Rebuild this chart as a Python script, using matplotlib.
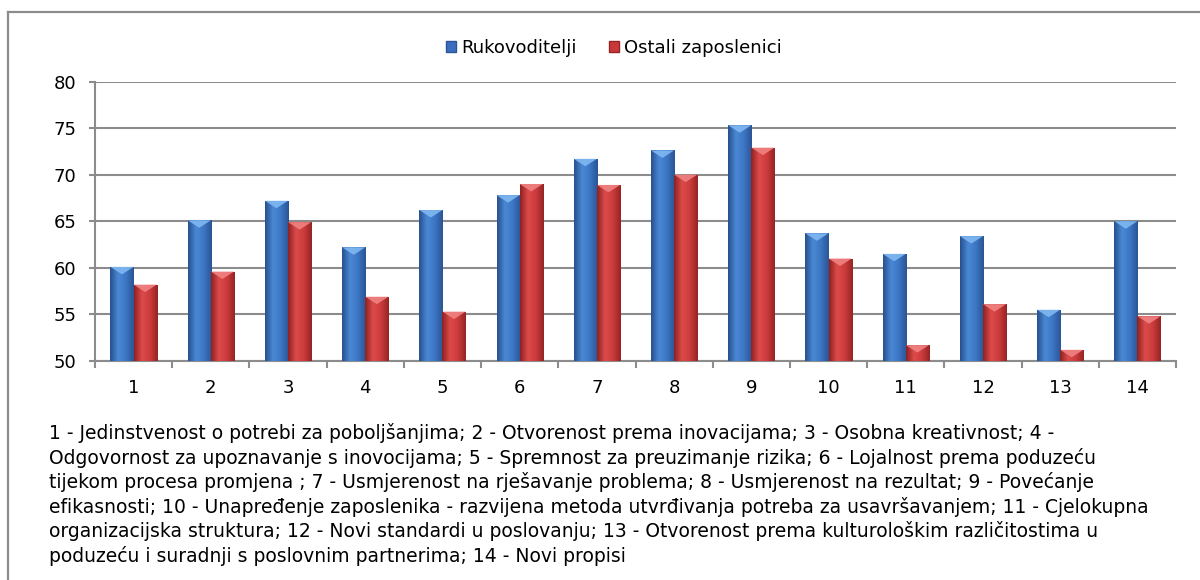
import numpy as np
import matplotlib
matplotlib.use("Agg")
import matplotlib.pyplot as plt
from matplotlib.patches import Rectangle, Polygon
from matplotlib.lines import Line2D
from matplotlib.colors import LinearSegmentedColormap

categories = ["1", "2", "3", "4", "5", "6", "7", "8", "9", "10", "11", "12", "13", "14"]
rukovoditelji = [60.1, 65.1, 67.2, 62.2, 66.2, 67.8, 71.7, 72.6, 75.3, 63.7, 61.5, 63.4, 55.5, 65.0]
ostali = [58.2, 59.6, 64.9, 56.9, 55.3, 69.0, 68.9, 70.0, 72.9, 61.0, 51.7, 56.1, 51.2, 54.8]
series_names = ["Rukovoditelji", "Ostali zaposlenici"]
y_ticks = [50, 55, 60, 65, 70, 75, 80]
caption_lines = [
    "1 - Jedinstvenost o potrebi za poboljšanjima; 2 - Otvorenost prema inovacijama; 3 - Osobna kreativnost; 4 -",
    "Odgovornost za upoznavanje s inovocijama; 5 - Spremnost za preuzimanje rizika; 6 - Lojalnost prema poduzeću",
    "tijekom procesa promjena ; 7 - Usmjerenost na rješavanje problema; 8 - Usmjerenost na rezultat; 9 - Povećanje",
    "efikasnosti; 10 - Unapređenje zaposlenika - razvijena metoda utvrđivanja potreba za usavršavanjem; 11 - Cjelokupna",
    "organizacijska struktura; 12 - Novi standardi u poslovanju; 13 - Otvorenost prema kulturološkim različitostima u",
    "poduzeću i suradnji s poslovnim partnerima; 14 - Novi propisi",
]

plt.rcParams['font.family'] = ['DejaVu Sans']

W, H = 1200, 580
fig = plt.figure(figsize=(W / 100, H / 100), dpi=100)
# outer border (left and top visible, the rest is cut off)
fig.add_artist(Line2D([8 / W, 8 / W], [0, 1 - 12 / H], transform=fig.transFigure, color='#8c8c8c', lw=1.6))
fig.add_artist(Line2D([8 / W, 1], [1 - 12 / H, 1 - 12 / H], transform=fig.transFigure, color='#8c8c8c', lw=1.6))

left, right, top, bottom = 95, 1176, 81.5, 361
ax = fig.add_axes([left / W, 1 - bottom / H, (right - left) / W, (bottom - top) / H])
x = np.arange(len(categories))
w = 0.30
b1 = ax.bar(x - w / 2, rukovoditelji, width=w, bottom=0, color='#3a6fc0', zorder=3)
b2 = ax.bar(x + w / 2, ostali, width=w, bottom=0, color='#c83a3a', zorder=3)

blue_cm = LinearSegmentedColormap.from_list('b', ['#28508e', '#4a88d4', '#3c76c4', '#2a5596'])
red_cm = LinearSegmentedColormap.from_list('r', ['#8e2222', '#dc4a4a', '#cc3c3c', '#962424'])
top_cols = {'b': '#80b8f2', 'r': '#f08282'}
grad = np.linspace(0, 1, 64).reshape(1, -1)
for bars, cm, key in ((b1, blue_cm, 'b'), (b2, red_cm, 'r')):
    for p in bars:
        x0, wd, h = p.get_x(), p.get_width(), p.get_height()
        im = ax.imshow(grad, cmap=cm, aspect='auto', extent=(x0, x0 + wd, 50, h), zorder=3.5)
        im.set_clip_path(p)
        tri_h = 0.8
        ax.add_patch(Polygon([(x0, h), (x0 + wd, h), (x0 + wd / 2, h - tri_h)], closed=True,
                             facecolor=top_cols[key], edgecolor='none', zorder=4, alpha=0.9))
ax.set_ylim(50, 80)
ax.set_xlim(-0.5, len(categories) - 0.5)

ax.set_yticks(y_ticks)
ax.set_xticks(x)
ax.set_xticklabels(categories)
ax.set_xticks(np.arange(len(categories) + 1) - 0.5, minor=True)
ax.tick_params(axis='x', which='major', length=0, labelsize=13, pad=13)
ax.tick_params(axis='x', which='minor', length=5, color='#8c8c8c', width=1.5, direction='out')
ax.tick_params(axis='y', length=4.5, color='#8c8c8c', width=1.5, labelsize=13, pad=9)
ax.grid(axis='y', color='#8c8c8c', linewidth=1.5, zorder=0)
for s in ['top', 'right']:
    ax.spines[s].set_visible(False)
for s in ['left', 'bottom']:
    ax.spines[s].set_color('#8c8c8c')
    ax.spines[s].set_linewidth(1.5)

handles = [Rectangle((0, 0), 1, 1, facecolor='#3a6fc0', edgecolor='#2a5596'),
           Rectangle((0, 0), 1, 1, facecolor='#c83a3a', edgecolor='#962424')]
fig.legend(handles, series_names, loc='center', bbox_to_anchor=(614 / W, 1 - 48 / H), ncol=2, frameon=False,
           fontsize=13, handlelength=0.55, handleheight=0.55, handletextpad=0.3, columnspacing=1.8,
           borderpad=0)

y0, dy = 433, 24.6
for i, line in enumerate(caption_lines):
    fig.text(49 / W, 1 - (y0 + i * dy) / H, line, fontsize=13.5, va='center', ha='left')

fig.savefig('out.png', dpi=100)
